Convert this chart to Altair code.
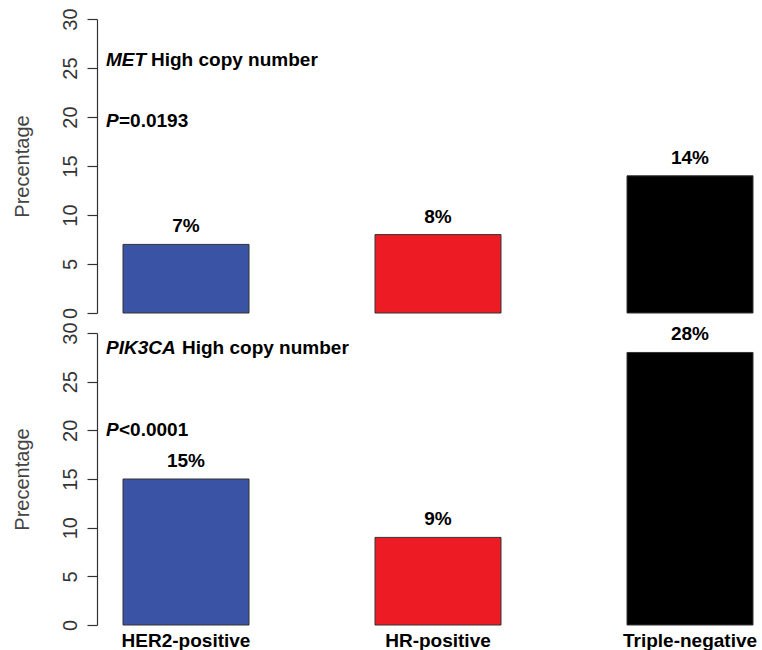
import altair as alt
import pandas as pd

# Breast cancer subtypes and share of tumours with high copy number (%)
groups = ["HER2-positive", "HR-positive", "Triple-negative"]
met_values = [7, 8, 14]
pik3ca_values = [15, 9, 28]
bar_colors = ["#3A53A4", "#ED1C24", "#000000"]
y_ticks = [0, 5, 10, 15, 20, 25, 30]

FONT = "Liberation Sans"
AXIS_GREY = "#333333"


def panel(values, gene, gene_w, p_rest, gene_y, p_y, height, show_x):
    df = pd.DataFrame({
        "group": groups,
        "value": values,
        "label": [f"{v}%" for v in values],
    })

    if show_x:
        x_axis = alt.Axis(
            title=None, labelAngle=0, labelFont=FONT, labelFontSize=19,
            labelFontWeight="bold", labelColor="black", domain=False,
            ticks=False, labelPadding=6, labelBaseline="top",
        )
    else:
        x_axis = None

    x = alt.X(
        "group:N", sort=groups, axis=x_axis,
        scale=alt.Scale(paddingInner=0.5, paddingOuter=0),
    )
    y = alt.Y(
        "value:Q",
        scale=alt.Scale(domain=[0, 30], nice=False, zero=True),
        axis=alt.Axis(
            values=y_ticks, title="Precentage", offset=26, tickSize=10,
            tickColor=AXIS_GREY, domainColor=AXIS_GREY, tickWidth=1.2,
            domainWidth=1.2, grid=False, labelAngle=270, labelAlign="center",
            labelBaseline="bottom", labelPadding=7, labelFont=FONT,
            labelFontSize=20, labelColor=AXIS_GREY, titleFont=FONT,
            titleFontSize=20, titleFontWeight="normal", titleColor="#444444",
            titleX=-75, titleBaseline="middle",
        ),
    )

    bars = alt.Chart(df).mark_bar(stroke="#333333", strokeWidth=1).encode(
        x=x, y=y,
        color=alt.Color("group:N", scale=alt.Scale(domain=groups, range=bar_colors), legend=None),
    )
    labels = alt.Chart(df).mark_text(
        font=FONT, fontSize=19, fontWeight="bold", baseline="middle", dy=-18, color="black"
    ).encode(x=alt.X("group:N", sort=groups), y="value:Q", text="label:N")

    def note(text, xpix, yval, italic):
        return alt.Chart(pd.DataFrame({"t": [text]})).mark_text(
            font=FONT, fontSize=19, fontWeight="bold",
            fontStyle="italic" if italic else "normal",
            align="left", baseline="middle", color="black",
        ).encode(x=alt.value(xpix), y=alt.datum(yval), text="t:N")

    gene_x = -17
    layer = alt.layer(
        bars, labels,
        note(gene, gene_x, gene_y, True),
        note("High copy number", gene_x + gene_w, gene_y, False),
        note("P", gene_x, p_y, True),
        note(p_rest, gene_x + 13, p_y, False),
    ).properties(width=630, height=height)
    return layer


top = panel(met_values, "MET", 45, "=0.0193", 25.8, 19.6, 294, False)
bottom = panel(pik3ca_values, "PIK3CA", 76, "<0.0001", 28.5, 20.0, 292, True)

chart = alt.vconcat(top, bottom, spacing=20, bounds="flush").configure(
    padding={"left": 12, "top": 7, "right": 0, "bottom": 0},
    background="white",
).configure_view(stroke=None)

chart.save("out.html", embed_options={"renderer": "svg", "actions": False})
